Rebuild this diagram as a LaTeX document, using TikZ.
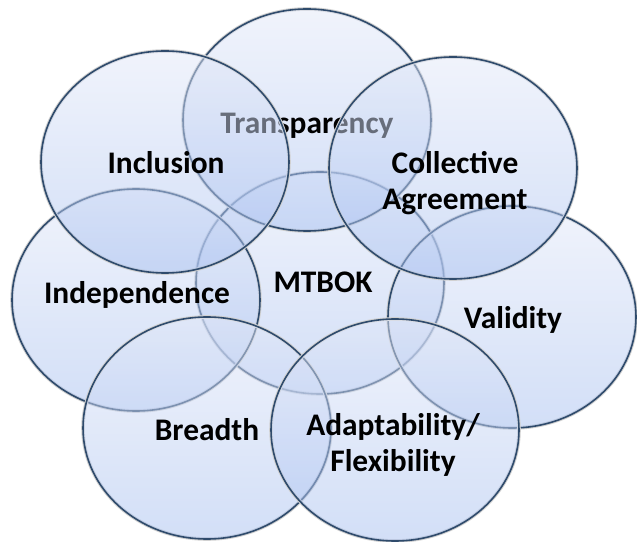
\documentclass[tikz,border=0pt]{standalone}
\usepackage{fontspec}
\setmainfont{Carlito}
\usetikzlibrary{shapes.geometric}
\definecolor{bubtop}{HTML}{E2E8F8}
\definecolor{bubbot}{HTML}{A6BFF0}
\definecolor{bubline}{HTML}{2F4B6C}
\tikzstyle{bubble}=[ellipse,minimum width=124pt,minimum height=111pt,inner sep=0,
  draw=bubline,line width=0.8pt,top color=bubtop,bottom color=bubbot,fill opacity=0.5,
  preaction={draw=black!18,line width=1.8pt}]
\tikzstyle{lbl}=[align=center,font=\fontsize{15.7}{18}\selectfont\bfseries,text=black,inner sep=0]

\begin{document}
\begin{tikzpicture}[x=0.5pt,y=0.5pt]
\useasboundingbox (0,0) rectangle (637,541);

\foreach \nm/\cx/\cy/\tx/\ty/\txt in {
	mtbok/320/283/323/282/MTBOK,
	transp/307/120/307/126/Transparency,
	valid/512/317/513/320/Validity,
	indep/136/300/137/295/Independence,
	incl/165/162/166/163/Inclusion,
	coll/453/168/455/183/{Collective\\Agreement},
	bread/207/428/207/430/Breadth,
	adapt/395/430/393/445/{Adaptability/\\Flexibility}}{
	\node[bubble] (\nm) at (\cx,541-\cy) {};
	\node[lbl] (\nm-txt) at (\tx,541-\ty) {\txt};
	}
\end{tikzpicture}
\end{document}
